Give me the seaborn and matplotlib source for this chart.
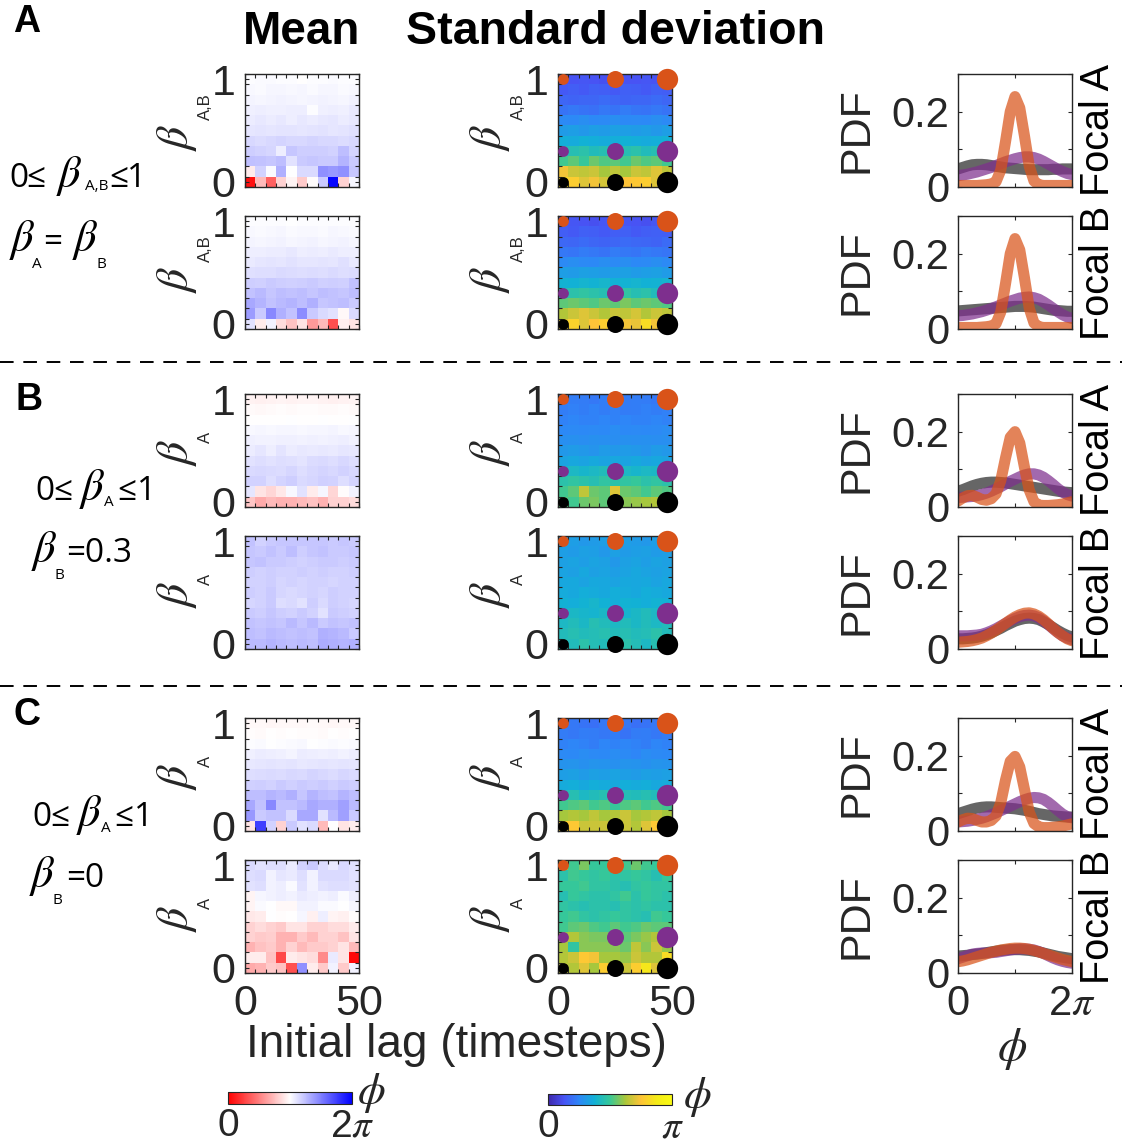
import numpy as np
import pandas as pd
import matplotlib
matplotlib.use("Agg")
import matplotlib.pyplot as plt
import seaborn as sns
from matplotlib.colors import LinearSegmentedColormap
from matplotlib.lines import Line2D

plt.rcParams['font.family'] = ['Liberation Sans', 'DejaVu Sans']
plt.rcParams['mathtext.fontset'] = 'custom'
plt.rcParams['mathtext.rm'] = 'Liberation Sans'
plt.rcParams['mathtext.sf'] = 'Liberation Sans'
plt.rcParams['mathtext.it'] = 'STIXGeneral:italic'

PI = np.pi
# ---------------- data ----------------
lags = [0, 5, 10, 15, 20, 25, 30, 35, 40, 45, 50]
betas = [1.0, 0.9, 0.8, 0.7, 0.6, 0.5, 0.4, 0.3, 0.2, 0.1, 0.0]   # rows, top to bottom

mean_A1 = [
    [3.18, 3.20, 3.20, 3.18, 3.18, 3.14, 3.18, 3.18, 3.20, 3.18, 3.18],
    [3.22, 3.20, 3.24, 3.24, 3.22, 3.24, 3.20, 3.24, 3.24, 3.20, 3.22],
    [3.27, 3.25, 3.28, 3.30, 3.27, 3.25, 3.27, 3.30, 3.27, 3.25, 3.30],
    [3.32, 3.36, 3.32, 3.32, 3.36, 3.36, 3.18, 3.32, 3.36, 3.32, 3.40],
    [3.38, 3.42, 3.38, 3.42, 3.34, 3.42, 3.38, 3.42, 3.46, 3.38, 3.42],
    [3.45, 3.48, 3.45, 3.48, 3.48, 3.45, 3.48, 3.50, 3.45, 3.48, 3.52],
    [3.62, 3.58, 3.62, 3.66, 3.62, 3.62, 3.66, 3.62, 3.62, 3.58, 3.62],
    [3.75, 3.70, 3.65, 3.35, 3.85, 3.75, 3.75, 3.75, 3.70, 3.95, 3.68],
    [3.92, 3.88, 3.85, 3.95, 3.50, 3.80, 3.85, 3.80, 3.80, 4.05, 3.80],
    [2.90, 3.70, 3.20, 4.10, 3.15, 3.60, 3.60, 4.50, 4.40, 4.50, 3.85],
    [0.20, 2.30, 1.20, 2.60, 3.00, 2.50, 3.10, 3.80, 6.20, 2.60, 3.25],
]
mean_A2 = [
    [3.17, 3.18, 3.18, 3.17, 3.16, 3.18, 3.17, 3.18, 3.17, 3.18, 3.17],
    [3.22, 3.20, 3.22, 3.24, 3.20, 3.22, 3.22, 3.20, 3.24, 3.22, 3.20],
    [3.28, 3.26, 3.28, 3.30, 3.26, 3.28, 3.30, 3.26, 3.28, 3.30, 3.26],
    [3.34, 3.36, 3.38, 3.38, 3.42, 3.34, 3.38, 3.36, 3.40, 3.34, 3.36],
    [3.40, 3.44, 3.48, 3.46, 3.50, 3.46, 3.44, 3.48, 3.46, 3.52, 3.42],
    [3.52, 3.55, 3.55, 3.60, 3.58, 3.55, 3.58, 3.55, 3.60, 3.55, 3.58],
    [3.75, 3.72, 3.78, 3.75, 3.72, 3.75, 3.78, 3.72, 3.75, 3.72, 3.88],
    [3.90, 4.00, 3.85, 3.95, 3.90, 3.95, 3.85, 3.95, 3.90, 3.85, 3.95],
    [4.20, 4.05, 3.90, 4.00, 4.05, 3.95, 4.10, 3.85, 3.90, 3.95, 3.80],
    [4.35, 3.80, 4.60, 4.10, 3.90, 4.55, 3.80, 3.60, 3.50, 3.05, 3.60],
    [3.50, 2.90, 3.30, 2.70, 2.40, 2.80, 1.90, 2.30, 1.00, 2.95, 2.80],
]
mean_B1 = [
    [2.98, 2.96, 2.98, 3.00, 2.98, 3.00, 3.00, 2.98, 2.96, 2.98, 3.00],
    [3.08, 3.06, 3.08, 3.10, 3.08, 3.10, 3.10, 3.08, 3.08, 3.10, 3.08],
    [3.14, 3.14, 3.13, 3.14, 3.15, 3.14, 3.14, 3.15, 3.14, 3.14, 3.15],
    [3.22, 3.24, 3.22, 3.24, 3.24, 3.22, 3.24, 3.24, 3.28, 3.22, 3.26],
    [3.32, 3.30, 3.30, 3.32, 3.32, 3.30, 3.32, 3.30, 3.32, 3.35, 3.30],
    [3.38, 3.45, 3.35, 3.48, 3.38, 3.42, 3.40, 3.42, 3.40, 3.45, 3.42],
    [3.50, 3.55, 3.50, 3.55, 3.52, 3.48, 3.58, 3.60, 3.55, 3.62, 3.55],
    [3.60, 3.62, 3.60, 3.58, 3.65, 3.55, 3.62, 3.68, 3.62, 3.70, 3.62],
    [3.70, 3.70, 3.55, 3.68, 3.75, 3.60, 3.65, 3.72, 3.70, 3.55, 3.68],
    [3.45, 2.80, 2.65, 2.85, 3.22, 3.50, 2.90, 3.25, 2.65, 3.10, 3.30],
    [2.45, 2.10, 2.30, 2.20, 2.20, 2.30, 2.40, 2.20, 2.60, 2.60, 2.70],
]
mean_B2 = [
    [3.90, 3.70, 3.80, 3.85, 3.85, 3.85, 3.85, 3.85, 3.80, 3.85, 3.80],
    [3.85, 3.80, 3.90, 3.80, 3.95, 3.75, 3.85, 3.90, 3.80, 3.80, 3.85],
    [3.85, 3.90, 3.80, 3.80, 3.75, 3.70, 3.75, 3.80, 3.80, 3.75, 3.80],
    [3.75, 3.70, 3.75, 3.70, 3.70, 3.75, 3.70, 3.75, 3.70, 3.70, 3.75],
    [3.70, 3.70, 3.75, 3.65, 3.70, 3.65, 3.70, 3.70, 3.65, 3.70, 3.70],
    [3.75, 3.70, 3.80, 3.65, 3.60, 3.65, 3.70, 3.65, 3.75, 3.70, 3.70],
    [3.65, 3.70, 3.80, 3.55, 3.60, 3.50, 3.75, 3.60, 3.75, 3.70, 3.65],
    [3.80, 3.75, 3.85, 3.75, 3.70, 3.80, 3.70, 3.50, 3.80, 3.75, 3.70],
    [3.90, 3.85, 3.90, 3.85, 4.00, 3.85, 4.00, 3.80, 3.90, 3.85, 3.90],
    [3.95, 3.90, 4.00, 3.95, 3.90, 3.95, 3.90, 4.10, 4.05, 4.00, 3.80],
    [4.00, 4.00, 4.05, 4.00, 3.95, 4.00, 3.95, 4.15, 4.10, 4.05, 4.10],
]
mean_C1 = [
    [3.05, 3.06, 3.04, 3.06, 3.05, 3.06, 3.08, 3.05, 3.04, 3.06, 3.05],
    [3.10, 3.08, 3.12, 3.10, 3.12, 3.10, 3.10, 3.08, 3.12, 3.10, 3.12],
    [3.18, 3.20, 3.15, 3.18, 3.20, 3.22, 3.16, 3.18, 3.20, 3.18, 3.20],
    [3.32, 3.38, 3.35, 3.32, 3.28, 3.38, 3.36, 3.32, 3.34, 3.30, 3.35],
    [3.42, 3.45, 3.48, 3.45, 3.48, 3.42, 3.46, 3.48, 3.44, 3.48, 3.45],
    [3.55, 3.58, 3.60, 3.58, 3.62, 3.60, 3.68, 3.62, 3.58, 3.65, 3.60],
    [3.72, 3.75, 3.70, 3.78, 3.72, 3.80, 3.75, 3.78, 3.72, 3.80, 3.75],
    [3.95, 3.95, 4.05, 4.00, 4.10, 3.85, 4.05, 3.95, 3.90, 4.05, 3.95],
    [4.20, 3.90, 4.60, 3.90, 3.90, 4.00, 4.20, 4.10, 4.10, 4.30, 4.00],
    [4.40, 3.80, 3.90, 3.90, 3.60, 4.20, 4.20, 3.50, 4.00, 4.30, 3.80],
    [2.80, 5.50, 3.70, 2.60, 3.80, 3.50, 3.60, 2.30, 3.15, 2.80, 2.90],
]
mean_C2 = [
    [3.60, 3.50, 3.55, 3.55, 3.40, 3.70, 3.80, 3.55, 3.40, 3.60, 3.50],
    [3.55, 3.60, 3.30, 3.45, 3.40, 3.55, 3.30, 3.60, 3.60, 3.60, 3.50],
    [3.50, 3.55, 3.30, 3.35, 3.20, 3.50, 3.30, 3.50, 3.55, 3.55, 3.50],
    [3.00, 3.25, 3.30, 3.35, 3.30, 3.40, 3.35, 3.30, 3.35, 3.20, 3.35],
    [3.00, 3.20, 3.15, 3.05, 3.05, 3.30, 3.30, 3.20, 3.20, 3.15, 3.25],
    [2.85, 2.90, 3.15, 3.10, 3.14, 3.25, 2.95, 3.35, 3.00, 2.95, 3.10],
    [2.60, 2.70, 2.60, 2.50, 2.80, 2.80, 2.60, 2.60, 2.70, 2.70, 2.90],
    [2.60, 2.50, 2.55, 2.20, 2.20, 2.50, 2.30, 2.60, 2.60, 2.40, 2.80],
    [2.20, 2.40, 2.50, 2.20, 2.60, 2.30, 2.50, 2.50, 2.60, 2.80, 2.30],
    [2.90, 2.90, 2.40, 0.90, 2.90, 2.80, 2.70, 1.70, 3.40, 2.80, 0.10],
    [2.10, 2.20, 2.50, 2.40, 1.00, 4.50, 2.90, 2.50, 3.30, 2.50, 3.30],
]

std_A1 = [
    [0.38, 0.40, 0.42, 0.40, 0.38, 0.42, 0.40, 0.40, 0.42, 0.40, 0.45],
    [0.45, 0.48, 0.45, 0.50, 0.48, 0.45, 0.50, 0.48, 0.45, 0.50, 0.48],
    [0.55, 0.52, 0.55, 0.55, 0.58, 0.55, 0.52, 0.55, 0.55, 0.58, 0.55],
    [0.65, 0.68, 0.65, 0.62, 0.68, 0.65, 0.70, 0.66, 0.65, 0.68, 0.65],
    [0.82, 0.80, 0.85, 0.80, 0.82, 0.85, 0.80, 0.82, 0.80, 0.85, 0.82],
    [0.98, 1.00, 0.95, 1.00, 0.98, 1.02, 1.00, 0.98, 1.00, 0.95, 1.00],
    [1.15, 1.12, 1.18, 1.15, 1.12, 1.15, 1.18, 1.15, 1.12, 1.15, 1.18],
    [1.35, 1.40, 1.45, 1.35, 1.40, 1.35, 1.40, 1.45, 1.35, 1.40, 1.40],
    [1.60, 1.70, 1.55, 1.75, 1.65, 1.70, 1.60, 1.75, 1.65, 1.70, 1.60],
    [2.30, 2.10, 2.05, 2.10, 1.95, 2.05, 1.95, 2.10, 2.05, 2.20, 2.05],
    [2.60, 2.45, 2.20, 2.30, 2.15, 2.10, 2.35, 2.40, 2.45, 2.20, 2.00],
]
std_A2 = [
    [0.40, 0.42, 0.40, 0.38, 0.42, 0.40, 0.42, 0.40, 0.38, 0.42, 0.45],
    [0.48, 0.45, 0.50, 0.48, 0.45, 0.48, 0.50, 0.45, 0.48, 0.50, 0.48],
    [0.56, 0.55, 0.58, 0.55, 0.52, 0.55, 0.58, 0.56, 0.55, 0.52, 0.58],
    [0.68, 0.66, 0.70, 0.68, 0.65, 0.70, 0.68, 0.66, 0.70, 0.68, 0.66],
    [0.82, 0.85, 0.82, 0.80, 0.85, 0.82, 0.85, 0.80, 0.82, 0.85, 0.82],
    [1.00, 0.98, 1.02, 1.00, 0.98, 1.00, 1.02, 0.98, 1.00, 1.02, 0.98],
    [1.20, 1.18, 1.22, 1.20, 1.25, 1.18, 1.20, 1.22, 1.18, 1.20, 1.22],
    [1.40, 1.45, 1.50, 1.45, 1.40, 1.45, 1.50, 1.40, 1.45, 1.35, 1.45],
    [1.70, 1.75, 1.70, 1.65, 1.75, 1.70, 1.80, 1.70, 1.75, 1.70, 1.65],
    [2.00, 2.10, 2.20, 2.10, 2.00, 2.10, 2.05, 2.15, 2.00, 2.10, 2.05],
    [2.20, 2.50, 2.20, 2.35, 2.45, 2.20, 2.30, 2.25, 2.60, 2.30, 2.10],
]
std_B1 = [
    [0.70, 0.72, 0.70, 0.68, 0.72, 0.70, 0.70, 0.72, 0.70, 0.68, 0.72],
    [0.72, 0.74, 0.72, 0.75, 0.72, 0.74, 0.70, 0.72, 0.74, 0.72, 0.74],
    [0.75, 0.78, 0.76, 0.75, 0.78, 0.75, 0.78, 0.76, 0.75, 0.78, 0.76],
    [0.80, 0.82, 0.80, 0.82, 0.80, 0.84, 0.80, 0.82, 0.80, 0.82, 0.84],
    [0.86, 0.88, 0.85, 0.88, 0.86, 0.85, 0.88, 0.86, 0.88, 0.85, 0.86],
    [0.95, 0.98, 0.95, 0.92, 0.98, 0.95, 0.98, 0.95, 0.92, 0.98, 0.95],
    [1.05, 1.08, 1.05, 1.10, 1.05, 1.08, 1.05, 1.10, 1.05, 1.08, 1.05],
    [1.25, 1.30, 1.25, 1.30, 1.35, 1.25, 1.30, 1.25, 1.30, 1.28, 1.25],
    [1.45, 1.50, 1.45, 1.40, 1.50, 1.45, 1.50, 1.55, 1.45, 1.50, 1.45],
    [1.60, 1.70, 2.05, 1.75, 1.70, 2.20, 1.75, 1.70, 1.60, 1.70, 1.65],
    [1.70, 1.60, 1.75, 1.80, 1.70, 1.80, 1.85, 1.90, 1.95, 2.00, 1.75],
]
std_B2 = [
    [0.95, 1.00, 0.95, 0.98, 1.00, 0.95, 1.00, 0.98, 0.95, 1.00, 0.98],
    [1.00, 0.98, 1.02, 1.00, 0.95, 1.02, 0.98, 1.00, 1.02, 0.98, 1.00],
    [1.02, 1.05, 1.00, 1.05, 1.02, 0.95, 1.02, 1.05, 1.00, 1.05, 1.02],
    [1.05, 1.02, 1.08, 1.02, 1.05, 1.00, 1.05, 1.08, 1.05, 1.02, 1.05],
    [1.08, 1.10, 1.05, 1.10, 1.08, 1.05, 1.10, 1.08, 1.10, 1.05, 1.08],
    [1.12, 1.10, 1.15, 1.12, 1.10, 1.15, 1.12, 1.10, 1.15, 1.12, 1.10],
    [1.18, 1.15, 1.20, 1.25, 1.18, 1.15, 1.20, 1.18, 1.15, 1.20, 1.18],
    [1.22, 1.28, 1.25, 1.22, 1.28, 1.25, 1.22, 1.28, 1.35, 1.30, 1.25],
    [1.30, 1.35, 1.28, 1.40, 1.35, 1.30, 1.35, 1.28, 1.35, 1.30, 1.35],
    [1.35, 1.40, 1.35, 1.38, 1.42, 1.35, 1.40, 1.35, 1.38, 1.45, 1.35],
    [1.40, 1.35, 1.45, 1.38, 1.35, 1.40, 1.45, 1.38, 1.30, 1.40, 1.35],
]
std_C1 = [
    [0.65, 0.68, 0.65, 0.62, 0.68, 0.65, 0.68, 0.62, 0.65, 0.68, 0.65],
    [0.70, 0.68, 0.72, 0.70, 0.68, 0.72, 0.65, 0.70, 0.72, 0.68, 0.70],
    [0.75, 0.78, 0.75, 0.72, 0.78, 0.75, 0.78, 0.75, 0.72, 0.78, 0.75],
    [0.82, 0.80, 0.84, 0.82, 0.80, 0.84, 0.82, 0.78, 0.84, 0.82, 0.80],
    [0.90, 0.92, 0.88, 0.92, 0.90, 0.88, 0.92, 0.90, 0.88, 0.92, 0.90],
    [1.00, 1.02, 0.98, 1.02, 1.00, 1.05, 1.00, 0.98, 1.02, 1.00, 1.02],
    [1.12, 1.15, 1.10, 1.15, 1.12, 1.10, 1.15, 1.12, 1.15, 1.10, 1.12],
    [1.35, 1.40, 1.30, 1.35, 1.40, 1.35, 1.38, 1.35, 1.40, 1.35, 1.38],
    [1.60, 1.65, 1.70, 1.60, 1.65, 1.55, 1.65, 1.70, 1.60, 1.65, 1.60],
    [1.95, 2.00, 1.95, 2.05, 1.95, 2.00, 2.10, 1.95, 2.00, 2.05, 1.95],
    [2.50, 2.40, 2.10, 2.10, 2.10, 2.00, 2.10, 2.00, 2.20, 2.40, 2.00],
]
std_C2 = [
    [1.90, 1.60, 1.80, 1.55, 1.55, 1.50, 1.60, 1.75, 1.60, 1.55, 1.50],
    [1.45, 1.60, 1.55, 1.50, 1.55, 1.45, 1.50, 1.55, 1.50, 1.40, 1.55],
    [1.55, 1.55, 1.60, 1.50, 1.50, 1.45, 1.40, 1.50, 1.55, 1.50, 1.50],
    [1.40, 1.55, 1.50, 1.45, 1.45, 1.50, 1.60, 1.45, 1.55, 1.50, 1.45],
    [1.50, 1.45, 1.40, 1.45, 1.45, 1.40, 1.50, 1.45, 1.50, 1.45, 1.45],
    [1.55, 1.60, 1.50, 1.45, 1.50, 1.55, 1.50, 1.45, 1.40, 1.60, 1.55],
    [1.60, 1.70, 1.75, 1.65, 1.60, 1.70, 1.60, 1.65, 1.75, 1.70, 1.70],
    [1.90, 2.00, 1.85, 1.80, 1.80, 1.90, 1.70, 1.80, 1.90, 2.00, 1.90],
    [1.95, 1.50, 1.85, 1.85, 1.85, 1.85, 1.75, 2.05, 1.85, 2.10, 1.90],
    [2.00, 2.10, 2.40, 2.30, 1.95, 1.95, 1.90, 2.10, 2.00, 2.00, 2.60],
    [2.05, 2.00, 2.20, 1.95, 2.45, 2.30, 2.10, 2.45, 2.70, 2.20, 2.30],
]

# dots on the std maps: (lag, beta)
dot_lags = [0, 25, 50]
dot_betas = [0.0, 0.3, 1.0]
dot_colors = ['#000000', '#7E2F8E', '#D95319']
dot_sizes = [60, 150, 235]

# PDFs sampled on phi = k*pi/12, k = 0..24
pdf_A1_black = [0.048, 0.052, 0.056, 0.059, 0.060, 0.060, 0.059, 0.057, 0.055, 0.053, 0.051, 0.050, 0.049,
                0.048, 0.047, 0.046, 0.046, 0.046, 0.046, 0.046, 0.047, 0.047, 0.048, 0.048, 0.048]
pdf_A1_purple = [0.030, 0.032, 0.034, 0.037, 0.040, 0.044, 0.048, 0.052, 0.057, 0.062, 0.067, 0.071, 0.075,
                 0.078, 0.080, 0.080, 0.078, 0.074, 0.068, 0.061, 0.054, 0.047, 0.041, 0.036, 0.033]
pdf_A1_orange = [0.004, 0.004, 0.004, 0.004, 0.004, 0.005, 0.006, 0.008, 0.014, 0.045, 0.120, 0.200, 0.240,
                 0.210, 0.135, 0.055, 0.016, 0.006, 0.004, 0.004, 0.004, 0.004, 0.004, 0.004, 0.004]
pdf_A2_black = [0.048, 0.049, 0.050, 0.051, 0.052, 0.053, 0.054, 0.055, 0.056, 0.057, 0.058, 0.059, 0.060,
                0.060, 0.060, 0.059, 0.058, 0.056, 0.054, 0.052, 0.050, 0.049, 0.048, 0.047, 0.047]
pdf_A2_purple = [0.035, 0.036, 0.038, 0.040, 0.043, 0.046, 0.050, 0.054, 0.059, 0.064, 0.069, 0.074, 0.078,
                 0.082, 0.084, 0.085, 0.083, 0.079, 0.072, 0.064, 0.055, 0.046, 0.038, 0.032, 0.028]
pdf_A2_orange = [0.004, 0.004, 0.004, 0.004, 0.004, 0.005, 0.006, 0.008, 0.014, 0.045, 0.120, 0.200, 0.240,
                 0.210, 0.135, 0.055, 0.016, 0.006, 0.004, 0.004, 0.004, 0.004, 0.004, 0.004, 0.004]
pdf_B1_black = [0.042, 0.046, 0.051, 0.056, 0.060, 0.063, 0.065, 0.066, 0.066, 0.065, 0.064, 0.062, 0.060,
                0.058, 0.056, 0.054, 0.052, 0.050, 0.048, 0.046, 0.044, 0.042, 0.040, 0.039, 0.038]
pdf_B1_purple = [0.025, 0.026, 0.027, 0.028, 0.030, 0.033, 0.037, 0.042, 0.048, 0.054, 0.061, 0.068, 0.074,
                 0.080, 0.085, 0.088, 0.088, 0.085, 0.079, 0.070, 0.060, 0.049, 0.040, 0.033, 0.029]
pdf_B1_orange = [0.016, 0.024, 0.030, 0.031, 0.026, 0.020, 0.018, 0.022, 0.035, 0.070, 0.130, 0.185, 0.200,
                 0.170, 0.105, 0.045, 0.014, 0.005, 0.004, 0.004, 0.005, 0.006, 0.008, 0.011, 0.014]
pdf_B2_black = [0.027, 0.027, 0.028, 0.029, 0.031, 0.034, 0.038, 0.043, 0.049, 0.055, 0.062, 0.068, 0.074,
                0.078, 0.081, 0.082, 0.081, 0.078, 0.072, 0.065, 0.057, 0.049, 0.042, 0.036, 0.032]
pdf_B2_purple = [0.035, 0.035, 0.035, 0.036, 0.037, 0.039, 0.043, 0.048, 0.054, 0.061, 0.068, 0.075, 0.081,
                 0.086, 0.089, 0.090, 0.088, 0.083, 0.075, 0.065, 0.054, 0.044, 0.035, 0.029, 0.025]
pdf_B2_orange = [0.018, 0.019, 0.020, 0.022, 0.025, 0.029, 0.035, 0.042, 0.050, 0.059, 0.068, 0.077, 0.085,
                 0.091, 0.095, 0.096, 0.093, 0.087, 0.078, 0.067, 0.055, 0.044, 0.035, 0.027, 0.022]
pdf_C1_black = [0.046, 0.050, 0.054, 0.058, 0.061, 0.063, 0.064, 0.064, 0.063, 0.062, 0.061, 0.060, 0.059,
                0.057, 0.055, 0.052, 0.049, 0.046, 0.044, 0.042, 0.040, 0.039, 0.038, 0.037, 0.037]
pdf_C1_purple = [0.024, 0.025, 0.026, 0.028, 0.031, 0.034, 0.038, 0.043, 0.048, 0.054, 0.060, 0.066, 0.072,
                 0.078, 0.083, 0.087, 0.089, 0.088, 0.084, 0.076, 0.066, 0.055, 0.045, 0.038, 0.035]
pdf_C1_orange = [0.024, 0.030, 0.034, 0.033, 0.028, 0.024, 0.024, 0.028, 0.040, 0.075, 0.135, 0.185, 0.198,
                 0.170, 0.110, 0.050, 0.020, 0.011, 0.009, 0.009, 0.010, 0.011, 0.013, 0.016, 0.019]
pdf_C2_black = [0.045, 0.046, 0.047, 0.049, 0.050, 0.052, 0.054, 0.056, 0.058, 0.060, 0.061, 0.062, 0.062,
                0.062, 0.061, 0.060, 0.058, 0.056, 0.053, 0.050, 0.047, 0.044, 0.042, 0.040, 0.038]
pdf_C2_purple = [0.038, 0.042, 0.046, 0.050, 0.052, 0.053, 0.053, 0.054, 0.055, 0.057, 0.059, 0.061, 0.063,
                 0.064, 0.064, 0.063, 0.061, 0.057, 0.052, 0.046, 0.040, 0.035, 0.031, 0.028, 0.026]
pdf_C2_orange = [0.030, 0.032, 0.035, 0.039, 0.043, 0.047, 0.051, 0.055, 0.058, 0.061, 0.063, 0.065, 0.066,
                 0.066, 0.065, 0.063, 0.060, 0.056, 0.052, 0.048, 0.044, 0.040, 0.036, 0.033, 0.030]
phi = np.linspace(0, 2 * PI, 25)

# ---------------- styling ----------------
W, H = 1122, 1147
fig = plt.figure(figsize=(W / 100, H / 100), dpi=100)
TXT = '#262626'

cmap_mean = LinearSegmentedColormap.from_list('rwb', ['#ff0000', '#ffffff', '#0000ff'])
parula_pts = [(0.2422, 0.1504, 0.6603), (0.2810, 0.3228, 0.9579), (0.1786, 0.5289, 0.9682),
              (0.0689, 0.6948, 0.8394), (0.2161, 0.7843, 0.5923), (0.6720, 0.7793, 0.2227),
              (0.9970, 0.7659, 0.2199), (0.9598, 0.9218, 0.0948), (0.9769, 0.9839, 0.0805)]
cmap_std = LinearSegmentedColormap.from_list('parula', parula_pts)


def px_axes(l, t, w, h):
    return fig.add_axes([l / W, 1 - (t + h) / H, w / W, h / H])


row_tops = [74, 216, 394, 536, 718, 860]
AW, AH = 114, 113
mean_list = [mean_A1, mean_A2, mean_B1, mean_B2, mean_C1, mean_C2]
std_list = [std_A1, std_A2, std_B1, std_B2, std_C1, std_C2]
pdf_list = [(pdf_A1_black, pdf_A1_purple, pdf_A1_orange), (pdf_A2_black, pdf_A2_purple, pdf_A2_orange),
            (pdf_B1_black, pdf_B1_purple, pdf_B1_orange), (pdf_B2_black, pdf_B2_purple, pdf_B2_orange),
            (pdf_C1_black, pdf_C1_purple, pdf_C1_orange), (pdf_C2_black, pdf_C2_purple, pdf_C2_orange)]
beta_subs = ['A,B', 'A,B', 'A', 'A', 'A', 'A']
pdf_colors = ['#2b2b2b', '#7E2F8E', '#D95319']


def style_heat(ax, sub, bottom):
    n = len(lags)
    for s in ax.spines.values():
        s.set_visible(True)
        s.set_color(TXT)
        s.set_linewidth(1.0)
    ax.set_xticks([0, n])
    ax.set_xticklabels(['0', '50'] if bottom else ['', ''])
    ax.set_yticks([0.5, n - 0.5])
    ax.set_yticklabels(['1', '0'])
    ax.set_xticks(np.arange(n + 1), minor=True)
    ax.set_yticks(np.arange(n + 1), minor=True)
    ax.tick_params(which='both', direction='in', top=True, right=True, length=3,
                   color=TXT, labelcolor=TXT, labelsize=31, width=0.8)
    ax.tick_params(axis='y', pad=7)
    ax.tick_params(axis='x', pad=8)
    ax.set_xlabel('')
    ax.set_ylabel('')
    yb, ys = (0.44, 0.71) if sub == 'A,B' else (0.48, 0.62)
    ax.text(-0.60, yb, r'$\beta$', transform=ax.transAxes, rotation=90, ha='center',
            va='center', fontsize=33, color=TXT)
    ax.text(-0.35, ys, sub, transform=ax.transAxes, rotation=90, ha='center',
            va='center', fontsize=12, color=TXT)


for i in range(6):
    bottom = (i == 5)
    # mean
    ax = px_axes(245, row_tops[i], AW, AH)
    df = pd.DataFrame(mean_list[i], index=betas, columns=lags)
    sns.heatmap(df, ax=ax, cmap=cmap_mean, vmin=0, vmax=2 * PI, cbar=False,
                xticklabels=False, yticklabels=False)
    style_heat(ax, beta_subs[i], bottom)
    # std
    ax = px_axes(558, row_tops[i], AW, AH)
    df = pd.DataFrame(std_list[i], index=betas, columns=lags)
    sns.heatmap(df, ax=ax, cmap=cmap_std, vmin=0, vmax=PI, cbar=False,
                xticklabels=False, yticklabels=False)
    style_heat(ax, beta_subs[i], bottom)
    for b, c in zip(dot_betas, dot_colors):
        for lg, s in zip(dot_lags, dot_sizes):
            ax.scatter([lags.index(lg) + 0.5], [betas.index(b) + 0.5], s=s, color=c,
                       linewidths=0, clip_on=False, zorder=5)
    # pdf
    ax = px_axes(958, row_tops[i], AW, AH)
    for ys, c in zip(pdf_list[i], pdf_colors):
        sns.lineplot(x=phi, y=ys, ax=ax, color=c, lw=8, alpha=0.72, solid_capstyle='round',
                     solid_joinstyle='round')
    ax.set_xlim(0, 2 * PI)
    ax.set_ylim(0, 0.3)
    ax.set_xticks([0, PI, 2 * PI])
    ax.set_xticklabels(['0', '', r'2$\pi$'] if bottom else ['', '', ''])
    ax.set_yticks([0, 0.1, 0.2, 0.3])
    ax.set_yticklabels(['0', '', '0.2', ''])
    ax.tick_params(direction='in', top=True, right=True, length=3, color=TXT, labelcolor=TXT,
                   labelsize=30, width=0.8)
    ax.tick_params(axis='y', pad=6)
    ax.tick_params(axis='x', pad=8)
    for s in ax.spines.values():
        s.set_color(TXT)
        s.set_linewidth(1.0)
    ax.set_xlabel('')
    ax.set_ylabel('')
    ax.text(-0.89, 0.5, 'PDF', transform=ax.transAxes, rotation=90, ha='center', va='center',
            fontsize=31, color=TXT)
    ax.text(1.23, 0.5, 'Focal A' if i % 2 == 0 else 'Focal B', transform=ax.transAxes, rotation=90,
            ha='center', va='center', fontsize=28.5, color='black')
    if bottom:
        ax.text(0.47, -0.67, r'$\phi$', transform=ax.transAxes, ha='center', va='center',
                fontsize=34, color=TXT)


def ftext(x, y, s, **kw):
    kw.setdefault('ha', 'center')
    kw.setdefault('va', 'center')
    fig.text(x / W, 1 - y / H, s, **kw)


# titles and panel letters
ftext(302, 32, 'Mean', fontsize=33, fontweight='bold')
ftext(615, 32, 'Standard deviation', fontsize=33.5, fontweight='bold')
ftext(27, 22, 'A', fontsize=27, fontweight='bold')
ftext(29, 400, 'B', fontsize=27, fontweight='bold')
ftext(27, 715, 'C', fontsize=27, fontweight='bold')
ftext(456, 1045, 'Initial lag (timesteps)', fontsize=33, color=TXT)

# left annotations: (x centre, baseline y, text, size)
ANN = ['Open Sans', 'DejaVu Sans']
left_pieces = [
    (19, 187, '0', 24), (36, 187, '≤', 24), (69, 187, r'$\beta$', 32), (97, 190, 'A,B', 11),
    (119, 187, '≤', 24), (137, 187, '1', 24),
    (22, 251, r'$\beta$', 32), (37, 268, 'A', 11), (53, 251, '=', 24), (85, 251, r'$\beta$', 32),
    (101, 268, 'B', 11),
    (45, 500, '0', 24), (63, 500, '≤', 24), (92, 500, r'$\beta$', 32), (109, 506, 'A', 11),
    (127, 500, '≤', 24), (147, 500, '1', 24),
    (44, 562, r'$\beta$', 32), (59, 579, 'B', 11), (99, 562, '=0.3', 24),
    (42, 826, '0', 24), (60, 826, '≤', 24), (89, 826, r'$\beta$', 32), (106, 832, 'A', 11),
    (124, 826, '≤', 24), (144, 826, '1', 24),
    (42, 887, r'$\beta$', 32), (57, 904, 'B', 11), (85, 887, '=0', 24),
]
for x, y, s, fs in left_pieces:
    ftext(x, y, s, fontsize=fs, va='baseline', family=ANN, color='black')

# dashed separators
for yy in [362, 686]:
    fig.add_artist(Line2D([0, 1], [1 - yy / H, 1 - yy / H], transform=fig.transFigure,
                          color='black', lw=1.4, ls=(0, (7, 5))))

# colorbars
cax = px_axes(228, 1092, 124, 12)
sm = plt.cm.ScalarMappable(norm=plt.Normalize(0, 2 * PI), cmap=cmap_mean)
cb = fig.colorbar(sm, cax=cax, orientation='horizontal')
cb.set_ticks([0, 2 * PI])
cb.set_ticklabels(['0', r'2$\pi$'])
cax.tick_params(length=0, labelsize=28, pad=3, labelcolor=TXT)
cb.outline.set_edgecolor(TXT)
ftext(371, 1093, r'$\phi$', fontsize=32, color=TXT)

cax = px_axes(548, 1094, 124, 11)
sm = plt.cm.ScalarMappable(norm=plt.Normalize(0, PI), cmap=cmap_std)
cb = fig.colorbar(sm, cax=cax, orientation='horizontal')
cb.set_ticks([0, PI])
cb.set_ticklabels(['0', r'$\pi$'])
cax.tick_params(length=0, labelsize=28, pad=3, labelcolor=TXT)
cb.outline.set_edgecolor(TXT)
ftext(697, 1097, r'$\phi$', fontsize=32, color=TXT)

fig.savefig('out.png', dpi=100)
